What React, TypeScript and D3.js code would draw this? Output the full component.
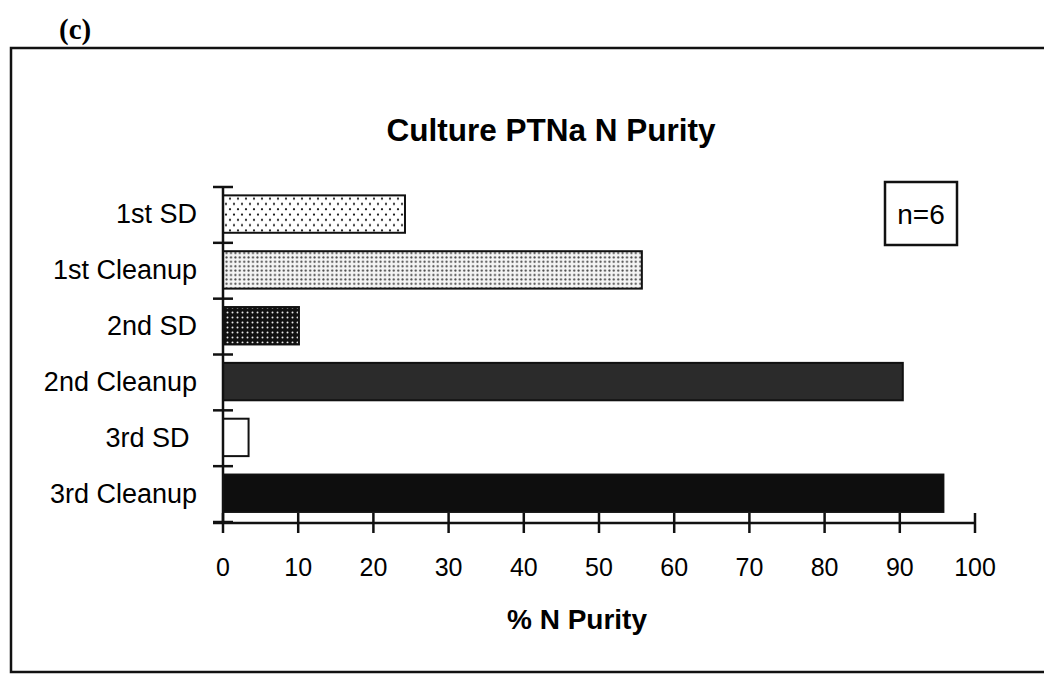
import React from "react";
import * as d3 from "d3";

const categories = ["1st SD", "1st Cleanup", "2nd SD", "2nd Cleanup", "3rd SD\u00A0", "3rd Cleanup"];
const values = [24.2, 55.7, 10.1, 90.4, 3.4, 95.8];
const fills = ["url(#pSparse)", "url(#pDense)", "url(#pDark)", "#2b2b2b", "#ffffff", "#0e0e0e"];
const xTicks = [0, 10, 20, 30, 40, 50, 60, 70, 80, 90, 100];
const title = "Culture PTNa N Purity";
const xTitle = "% N Purity";
const note = "n=6";
const panel = "(c)";

export default function App() {
  const W = 1044, H = 675;
  const x = d3.scaleLinear().domain([0, 100]).range([223, 975]);
  const y = d3.scaleBand<string>().domain(categories).range([187, 522]).padding(0);
  const bw = y.bandwidth();
  const sans = "'Liberation Sans', Arial, sans-serif";
  const bounds = [...categories.map((c) => y(c) as number), 522];

  return (
    <svg width={W} height={H} style={{ position: "absolute", left: 0, top: 0, background: "#fff" }}>
      <defs>
        <pattern id="pSparse" patternUnits="userSpaceOnUse" width={8} height={10.6}>
          <rect width={8} height={10.6} fill="#fff" />
          <circle cx={2} cy={2.6} r={1.1} fill="#111" />
          <circle cx={6} cy={7.9} r={1.1} fill="#111" />
        </pattern>
        <pattern id="pDense" patternUnits="userSpaceOnUse" width={4.4} height={4.4}>
          <rect width={4.4} height={4.4} fill="#f4f4f4" />
          <circle cx={2.2} cy={2.2} r={1.05} fill="#444" />
        </pattern>
        <pattern id="pDark" patternUnits="userSpaceOnUse" width={5} height={5}>
          <rect width={5} height={5} fill="#111" />
          <circle cx={2.5} cy={2.5} r={1.0} fill="#e8e8e8" />
        </pattern>
      </defs>

      <text x={59} y={39} fontFamily="'Liberation Serif', 'DejaVu Serif', serif" fontWeight="bold" fontSize={29}>{panel}</text>

      <path d={`M1050,48 H11 V672 H1050`} fill="none" stroke="#111" strokeWidth={2.5} />

      <text x={551} y={141} textAnchor="middle" fontFamily={sans} fontWeight="bold" fontSize={31.5}>{title}</text>

      {categories.map((c, i) => (
        <rect key={c} x={x(0)} y={(y(c) as number) + bw * 0.15} width={x(values[i]) - x(0)} height={bw * 0.67}
          fill={fills[i]} stroke="#111" strokeWidth={2} />
      ))}

      <line x1={x(0)} x2={x(0)} y1={187} y2={523} stroke="#111" strokeWidth={2.5} />
      {bounds.map((b, i) => (
        <line key={i} x1={213} x2={233} y1={b} y2={b} stroke="#111" strokeWidth={2.5} />
      ))}
      {categories.map((c) => (
        <text key={c} x={197} y={(y(c) as number) + bw / 2 - 1} dy="0.35em" textAnchor="end" fontFamily={sans} fontSize={27} style={{ whiteSpace: "pre" }}>{c}</text>
      ))}

      <line x1={213} x2={x(100)} y1={523} y2={523} stroke="#111" strokeWidth={2.5} />
      {xTicks.map((t) => (
        <g key={t}>
          <line x1={x(t)} x2={x(t)} y1={513} y2={533} stroke="#111" strokeWidth={2.5} />
          <text x={x(t)} y={576} textAnchor="middle" fontFamily={sans} fontSize={25}>{t}</text>
        </g>
      ))}

      <text x={577} y={629} textAnchor="middle" fontFamily={sans} fontWeight="bold" fontSize={28}>{xTitle}</text>

      <rect x={885} y={182} width={72} height={63} fill="#fff" stroke="#111" strokeWidth={2.5} />
      <text x={921} y={214} dy="0.35em" textAnchor="middle" fontFamily={sans} fontSize={28}>{note}</text>
    </svg>
  );
}
